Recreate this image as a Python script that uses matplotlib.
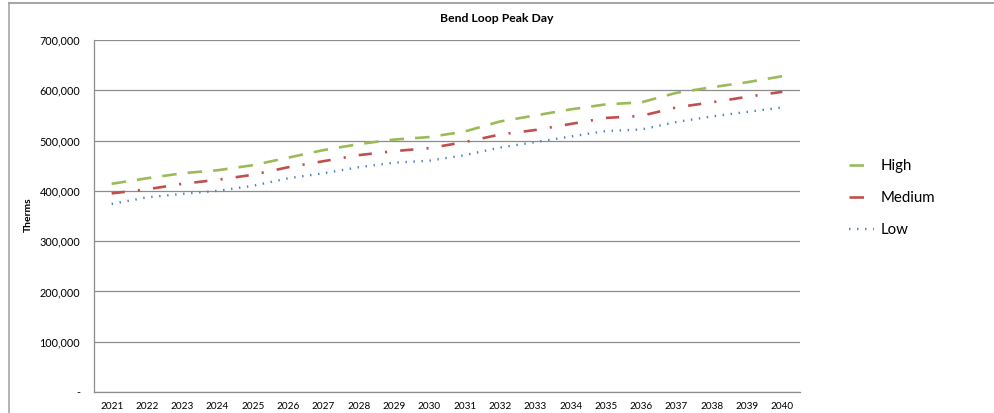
import numpy as np
import matplotlib.pyplot as plt
from matplotlib.lines import Line2D

years = [str(y) for y in range(2021, 2041)]
high = [414000, 425000, 435000, 441000, 451000, 466000, 481000, 493000, 502000, 507000,
        518000, 538000, 550000, 562000, 572000, 576000, 595000, 606000, 616000, 628000]
medium = [395000, 403000, 414000, 422000, 432000, 447000, 459000, 471000, 479000, 485000,
          497000, 512000, 521000, 533000, 545000, 549000, 566000, 576000, 587000, 597000]
low = [374000, 387000, 394000, 400000, 410000, 425000, 435000, 447000, 456000, 460000,
       471000, 486000, 497000, 508000, 519000, 522000, 537000, 548000, 557000, 566000]
yticks = [0, 100000, 200000, 300000, 400000, 500000, 600000, 700000]

plt.rcParams['font.family'] = ['Lato', 'DejaVu Sans']

fig = plt.figure(figsize=(9.95, 4.13), dpi=100)
ax = fig.add_axes([94 / 995, 1 - 392 / 413, 706 / 995, 352 / 413])

x = np.arange(len(years))
ax.plot(x, high, color='#9BBB59', lw=1.9, dashes=(5.5, 4.2), label='High')
ax.plot(x, medium, color='#C0504D', lw=1.9, dashes=(5.0, 5.0, 0.8, 5.0), label='Medium')
ax.plot(x, low, color='#4F81BD', lw=1.7, dashes=(0.6, 2.8), label='Low')

ax.set_xlim(-0.5, len(years) - 0.5)
ax.set_ylim(0, 700000)
ax.set_xticks(x)
ax.set_xticklabels(years, fontsize=7.2)
ax.set_yticks(yticks)
ax.set_yticklabels(['-' if v == 0 else f'{v:,}' for v in yticks], fontsize=7.8)
ax.tick_params(length=0, pad=10)
ax.tick_params(axis='x', pad=7)
ax.yaxis.grid(True, color='#8c8c8c', lw=0.9)
ax.set_axisbelow(True)
for s in ['top', 'right']:
    ax.spines[s].set_visible(False)
for s in ['left', 'bottom']:
    ax.spines[s].set_color('#8c8c8c')
    ax.spines[s].set_linewidth(0.9)

ax.set_ylabel('Therms', fontsize=7.5, fontweight='bold')
ax.yaxis.set_label_coords((33 - 94) / 706, (392 - 215) / 352)
fig.text(497 / 995, 1 - 18 / 413, 'Bend Loop Peak Day', fontsize=8.8, fontweight='bold',
         ha='center', va='center')

# legend samples: one dash for High/Medium, a row of dots for Low
handles = [
    Line2D([], [], color='#9BBB59', lw=1.9, dashes=(5.5, 20)),
    Line2D([], [], color='#C0504D', lw=1.9, dashes=(5.5, 20)),
    Line2D([], [], color='#4F81BD', lw=1.7, dashes=(0.6, 2.8)),
]
fig.legend(handles, ['High', 'Medium', 'Low'], loc='center left',
           bbox_to_anchor=(836 / 995, 1 - 198 / 413), frameon=False, fontsize=10.8,
           handlelength=1.65, handletextpad=0.4, labelspacing=1.2)

# outer chart frame
fig.add_artist(Line2D([9 / 995, 9 / 995], [0, 1 - 3 / 413], color='#a6a6a6', lw=1.2))
fig.add_artist(Line2D([9 / 995, 1], [1 - 3 / 413, 1 - 3 / 413], color='#a6a6a6', lw=1.5))

fig.savefig('out.png', dpi=100)
